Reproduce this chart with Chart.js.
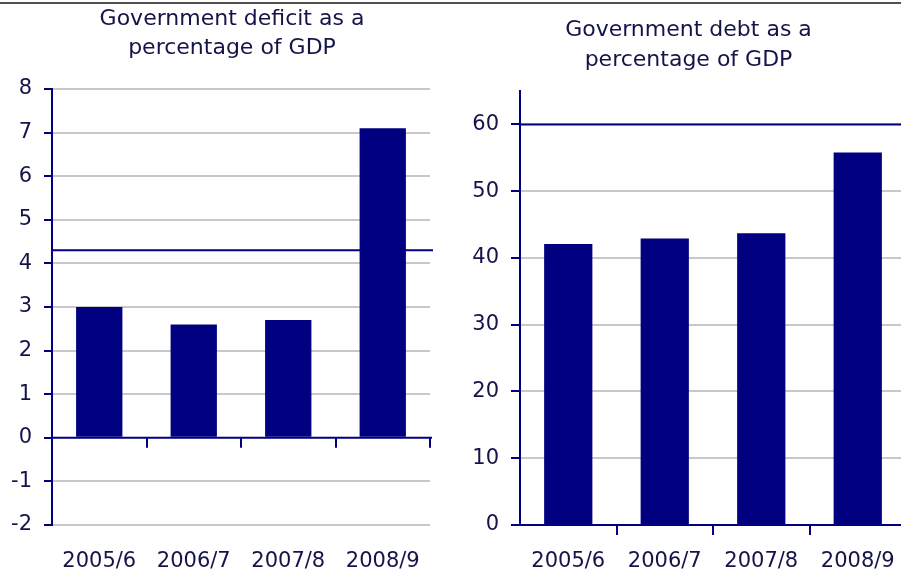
<!DOCTYPE html>
<html><head><meta charset="utf-8">
<script src="https://cdn.jsdelivr.net/npm/chart.js@4.4.1/dist/chart.umd.min.js"></script>
<style>
html,body{margin:0;padding:0;background:#fff;width:901px;height:573px;overflow:hidden;position:relative}
#topline{position:absolute;left:0;top:2px;width:901px;height:2px;background:#505050}
#c1{position:absolute;left:0;top:0}
#c2{position:absolute;left:450px;top:0}
</style></head><body>
<div id="topline"></div>
<canvas id="c1" width="464" height="573"></canvas>
<canvas id="c2" width="477" height="573"></canvas>
<script>
const categories = ['2005/6', '2006/7', '2007/8', '2008/9'];
const deficitValues = [3.0, 2.6, 2.7, 7.1];
const debtValues = [42.1, 42.9, 43.7, 55.8];
const deficitReference = 4.3;
const debtReference = 60;
const deficitTitle = ['Government deficit as a', 'percentage of GDP'];
const debtTitle = ['Government debt as a', 'percentage of GDP'];
const deficitTicks = [-2, -1, 0, 1, 2, 3, 4, 5, 6, 7, 8];
const debtTicks = [0, 10, 20, 30, 40, 50, 60];

const NAVY = '#000080';
const TEXT = '#14144a';
const GRID = '#c8c8c8';
const FONT = 'DejaVu Sans';

const refPlugin = {
  id: 'refLine',
  afterDatasetsDraw(chart) {
    const o = chart.options.plugins.refLine;
    const {ctx, chartArea, scales: {x, y}} = chart;
    ctx.save();
    ctx.strokeStyle = NAVY;
    ctx.lineWidth = 2;
    const yr = y.getPixelForValue(o.value);
    ctx.beginPath();
    ctx.moveTo(chartArea.left, yr);
    ctx.lineTo(chartArea.right + o.extend, yr);
    ctx.stroke();
    const y0 = y.getPixelForValue(0);
    ctx.beginPath();
    ctx.moveTo(chartArea.left, y0);
    ctx.lineTo(chartArea.right + 2, y0);
    const n = chart.data.labels.length;
    for (let i = 1; i <= n; i++) {
      const px = Math.round(x.getPixelForValue(i - 0.5));
      ctx.moveTo(px, y0);
      ctx.lineTo(px, y0 + 10);
    }
    ctx.stroke();
    ctx.restore();
  }
};

const titlePlugin = {
  id: 'titleText',
  afterDraw(chart) {
    const o = chart.options.plugins.titleText;
    const ctx = chart.ctx;
    ctx.save();
    ctx.fillStyle = TEXT;
    ctx.font = '22px "' + FONT + '"';
    ctx.textAlign = 'center';
    ctx.textBaseline = 'middle';
    o.lines.forEach((t, i) => ctx.fillText(t, o.cx, o.y + i * o.lh));
    ctx.restore();
  }
};

function makeChart(id, values, ticksList, ref, title, opts) {
  const tmin = ticksList[0];
  return new Chart(document.getElementById(id), {
    type: 'bar',
    data: {
      labels: categories,
      datasets: [{data: values, backgroundColor: NAVY, borderWidth: 0,
        barPercentage: opts.barPct, categoryPercentage: 1}]
    },
    options: {
      responsive: false,
      animation: false,
      layout: {padding: {left: 0, right: opts.padRight, top: opts.padTop, bottom: 0}},
      plugins: {
        legend: {display: false},
        tooltip: {enabled: false},
        title: {display: false},
        titleText: {lines: title, cx: opts.titleX, y: opts.titleY, lh: 29.5},
        refLine: {value: ref, extend: opts.refExtend}
      },
      scales: {
        x: {
          grid: {display: false, drawTicks: false},
          border: {display: false},
          ticks: {color: TEXT, font: {family: FONT, size: 21}, padding: 24, maxRotation: 0, autoSkip: false},
          afterFit(s) { s.height = 48; }
        },
        y: {
          min: tmin, max: opts.yMax,
          border: {display: true, color: NAVY, width: 2},
          grid: {
            color: (c) => (c.tick && c.tick.value === 0) ? 'rgba(0,0,0,0)' : GRID,
            lineWidth: 2, tickColor: NAVY, tickWidth: 2, tickLength: opts.tickLen, drawTicks: true
          },
          ticks: {stepSize: ticksList[1] - ticksList[0], color: TEXT, font: {family: FONT, size: 21}, padding: 12},
          afterBuildTicks(s) { s.ticks = ticksList.map(v => ({value: v})); },
          afterFit(s) { s.width = opts.yWidth; }
        }
      }
    },
    plugins: [refPlugin, titlePlugin]
  });
}

makeChart('c1', deficitValues, deficitTicks, deficitReference, deficitTitle,
  {barPct: 0.49, padRight: 34, padTop: 89, titleX: 232, titleY: 19, refExtend: 3, tickLen: 8, yWidth: 52, yMax: 8});
makeChart('c2', debtValues, debtTicks, debtReference, debtTitle,
  {barPct: 0.5, padRight: 21, padTop: 91, titleX: 238.5, titleY: 30.5, refExtend: 30, tickLen: 9, yWidth: 70, yMax: 65});
</script>
</body></html>
